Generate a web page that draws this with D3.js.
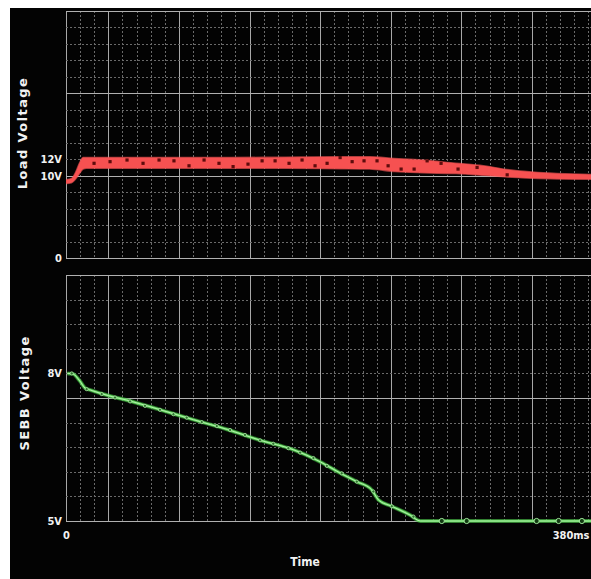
<!DOCTYPE html>
<html>
<head>
<meta charset="utf-8">
<script src="https://cdn.jsdelivr.net/npm/d3@7"></script>
<style>
  body { margin: 0; background: #fff; }
  text { font-family: 'Liberation Sans Narrow', 'DejaVu Sans Condensed', 'DejaVu Sans', sans-serif; font-weight: bold; fill: #f2f2f2; }
</style>
</head>
<body>
<script>
// load voltage envelope (ms, volts)
var loadTime = [0, 4, 7, 10, 12.5, 15, 40, 80, 120, 160, 200, 222, 240, 260, 285, 305, 322, 341, 384];
var loadHigh = [9.5, 9.65, 10.4, 11.6, 12.2, 12.2, 12.2, 12.2, 12.2, 12.25, 12.3, 12.3, 12.1, 11.9, 11.5, 11.2, 10.75, 10.45, 10.15];
var loadLow  = [9.05, 9.15, 9.6, 10.3, 10.8, 10.9, 10.9, 10.9, 10.9, 10.9, 10.85, 10.8, 10.5, 10.35, 10.25, 10.05, 9.85, 9.7, 9.55];

// dark sample dots inside the band
var loadMarkTime = [20.5, 32.2, 44.6, 56.3, 68.0, 78.9, 89.9, 100.9, 111.8, 122.1, 133.0, 143.3, 152.8, 163.0, 172.5,
                    182.0, 190.8, 200.3, 209.1, 217.8, 227.3, 235.4, 244.9, 254.4, 263.9, 274.1, 286.5, 300.4, 322.4];
var loadMarkVolt = [11.5, 11.7, 11.9, 11.5, 11.9, 11.8, 11.2, 11.9, 11.5, 11.1, 11.4, 11.8, 11.8, 11.5, 11.9,
                    11.2, 11.5, 12.2, 11.7, 11.8, 11.8, 11.2, 10.8, 10.8, 11.8, 11.5, 10.8, 11.0, 10.1];

// SEBB voltage trace
var sebbTime = [1, 5, 10, 14, 18, 32, 44, 69, 93, 118, 142, 166, 186, 200, 212.5, 223.5, 228.3, 238, 251.5, 259, 384];
var sebbVolt = [8.0, 7.99, 7.85, 7.7, 7.66, 7.54, 7.46, 7.26, 7.06, 6.86, 6.64, 6.45, 6.2, 5.98, 5.8, 5.63, 5.43, 5.3, 5.12, 5.0, 5.0];

var sebbDotTime = [4.2, 15.1, 26.1, 35.8, 46.8, 57.7, 68.7, 78.5, 88.2, 99.2, 110.2, 119.9, 130.8, 141.8, 151.5, 162.5,
                   171.1, 180.8, 190.6, 201.5, 212.5, 224.6, 238.1, 253.9];
var sebbDotVolt = [8.0, 7.68, 7.58, 7.51, 7.43, 7.34, 7.26, 7.17, 7.1, 7.01, 6.93, 6.85, 6.75, 6.64, 6.57, 6.48,
                   6.39, 6.28, 6.12, 5.97, 5.8, 5.6, 5.3, 5.09];
var sebbRingTime = [274.6, 292.8, 343.9, 360.0, 377.0];
var sebbRingVolt = [5.0, 5.0, 5.0, 5.0, 5.0];

// tick labels
var loadTicks = [0, 10, 12];
var loadTickLabels = ['0', '10V', '12V'];
var sebbTicks = [5, 8];
var sebbTickLabels = ['5V', '8V'];
var timeTicks = [0, 380];
var timeTickLabels = ['0', '380ms'];

var W = 591, H = 579;
var svg = d3.select('body').append('svg').attr('width', W).attr('height', H);
var defs = svg.append('defs');

svg.append('rect').attr('width', W).attr('height', H).attr('fill', '#fff');
svg.append('rect').attr('x', 10).attr('y', 8).attr('width', W - 10).attr('height', H - 8).attr('fill', '#030303');

var x = d3.scaleLinear().domain([0, 380]).range([66, 586]);
var xDiv = d3.scaleLinear().domain([0, 1]).range([66, 80.12]);   // scope grid divisions
var yLoad = d3.scaleLinear().domain([0, 30]).range([258, 11]);
var ySebb = d3.scaleLinear().domain([5, 10]).range([521, 275]);

var glow = defs.append('filter').attr('id', 'soft').attr('x', '-5%').attr('y', '-50%').attr('width', '110%').attr('height', '200%');
glow.append('feGaussianBlur').attr('stdDeviation', 0.7);

function grid(g, yScale, yVals, isMajorY, y0, y1) {
    var divs = d3.range(0, 38).filter(function(i) { return xDiv(i) <= W; });
    g.selectAll('.vx').data(divs).enter().append('line')
        .attr('x1', function(d) { return Math.round(xDiv(d)) + 0.5; })
        .attr('x2', function(d) { return Math.round(xDiv(d)) + 0.5; })
        .attr('y1', y0).attr('y2', y1)
        .attr('stroke', function(d) { return (d === 0 || d % 5 === 3) ? '#a8a8a8' : '#6a6a6a'; })
        .attr('stroke-dasharray', function(d) { return (d === 0 || d % 5 === 3) ? null : '2,2'; })
        .attr('stroke-width', 1);
    g.selectAll('.hy').data(yVals).enter().append('line')
        .attr('x1', 66).attr('x2', W)
        .attr('y1', function(d) { return Math.round(yScale(d)) + 0.5; })
        .attr('y2', function(d) { return Math.round(yScale(d)) + 0.5; })
        .attr('stroke', function(d) { return isMajorY(d) ? '#b0b0b0' : '#6a6a6a'; })
        .attr('stroke-dasharray', function(d) { return isMajorY(d) ? null : '2,2'; })
        .attr('stroke-width', 1);
}

// top panel: load voltage
var topPanel = svg.append('g');
grid(topPanel, yLoad, d3.range(0, 31, 2), function(d) { return d % 10 === 0; }, 11, 258);

defs.append('clipPath').attr('id', 'clipTop').append('rect').attr('x', 66).attr('y', 11).attr('width', W - 66).attr('height', 247);

var loadRows = loadTime.map(function(t, i) { return { t: t, hi: loadHigh[i], lo: loadLow[i] }; });
var band = d3.area().curve(d3.curveMonotoneX)
    .x(function(d) { return x(d.t); })
    .y0(function(d) { return yLoad(d.lo); })
    .y1(function(d) { return yLoad(d.hi); });

var topData = topPanel.append('g').attr('clip-path', 'url(#clipTop)');
topData.append('path').datum(loadRows).attr('d', band)
    .attr('fill', '#ff5a5a').attr('opacity', 0.6).attr('filter', 'url(#soft)')
    .attr('stroke', '#ff5a5a').attr('stroke-width', 1.5);
topData.append('path').datum(loadRows).attr('d', band).attr('fill', '#f65151');

topData.selectAll('.lm').data(loadMarkTime).enter().append('rect')
    .attr('x', function(d) { return x(d) - 1.6; })
    .attr('y', function(d, i) { return yLoad(loadMarkVolt[i]) - 1.6; })
    .attr('width', 3.2).attr('height', 3.2)
    .attr('fill', '#5e0c0c');

var loadAxis = d3.axisLeft(yLoad).tickValues(loadTicks)
    .tickFormat(function(d, i) { return loadTickLabels[i]; })
    .tickSize(0).tickPadding(4);
svg.append('g').attr('transform', 'translate(66,0)').call(loadAxis)
    .call(function(g) { g.select('.domain').remove(); })
    .attr('font-family', null).attr('font-size', null)
    .selectAll('text').attr('font-size', 11).attr('fill', null);

// bottom panel: SEBB voltage
var botPanel = svg.append('g');
grid(botPanel, ySebb, d3.range(5, 10.01, 0.5), function(d) { return d === 5 || d === 7.5 || d === 10; }, 275, 521);

defs.append('clipPath').attr('id', 'clipBot').append('rect').attr('x', 66).attr('y', 270).attr('width', W - 66).attr('height', 260);

var sebbRows = sebbTime.map(function(t, i) { return { t: t, v: sebbVolt[i] }; });
var trace = d3.line().curve(d3.curveMonotoneX)
    .x(function(d) { return x(d.t); })
    .y(function(d) { return ySebb(d.v); });

var botData = botPanel.append('g').attr('clip-path', 'url(#clipBot)');
botData.append('path').datum(sebbRows).attr('d', trace)
    .attr('fill', 'none').attr('stroke', '#3fb83f').attr('stroke-width', 4).attr('opacity', 0.55).attr('filter', 'url(#soft)');
botData.append('path').datum(sebbRows).attr('d', trace)
    .attr('fill', 'none').attr('stroke', '#5ed05a').attr('stroke-width', 2.4);
botData.append('path').datum(sebbRows).attr('d', trace)
    .attr('fill', 'none').attr('stroke', '#c8f7c0').attr('stroke-width', 0.8);

botData.selectAll('.sd').data(sebbDotTime).enter().append('circle')
    .attr('cx', function(d) { return x(d); })
    .attr('cy', function(d, i) { return ySebb(sebbDotVolt[i]); })
    .attr('r', 1.6).attr('fill', '#2f7a2f').attr('stroke', '#b9f0b0').attr('stroke-width', 0.7);
botData.selectAll('.sr').data(sebbRingTime).enter().append('circle')
    .attr('cx', function(d) { return x(d); })
    .attr('cy', function(d, i) { return ySebb(sebbRingVolt[i]); })
    .attr('r', 2.6).attr('fill', '#123a12').attr('stroke', '#9fe59a').attr('stroke-width', 1);

var sebbAxis = d3.axisLeft(ySebb).tickValues(sebbTicks)
    .tickFormat(function(d, i) { return sebbTickLabels[i]; })
    .tickSize(0).tickPadding(4);
svg.append('g').attr('transform', 'translate(66,0)').call(sebbAxis)
    .call(function(g) { g.select('.domain').remove(); })
    .attr('font-family', null).attr('font-size', null)
    .selectAll('text').attr('font-size', 11).attr('fill', null);

var timeAxis = d3.axisBottom(x).tickValues(timeTicks)
    .tickFormat(function(d, i) { return timeTickLabels[i]; })
    .tickSize(0).tickPadding(10);
var timeG = svg.append('g').attr('transform', 'translate(0,521)').call(timeAxis)
    .call(function(g) { g.select('.domain').remove(); })
    .attr('font-family', null).attr('font-size', null);
timeG.selectAll('text').attr('font-size', 11).attr('fill', null);
// last label sits at the right edge: anchor it at its end so it stays inside
timeG.selectAll('.tick').filter(function(d) { return d === 380; }).select('text')
    .attr('text-anchor', 'end').attr('dx', W - 2 - x(380));

// axis titles
svg.append('text').attr('transform', 'translate(27,133) rotate(-90)')
    .attr('text-anchor', 'middle').attr('font-size', 13).attr('letter-spacing', 1.4)
    .style('font-family', "'DejaVu Sans', sans-serif").text('Load Voltage');
svg.append('text').attr('transform', 'translate(29,393) rotate(-90)')
    .attr('text-anchor', 'middle').attr('font-size', 13).attr('letter-spacing', 1.4)
    .style('font-family', "'DejaVu Sans', sans-serif").text('SEBB Voltage');
svg.append('text').attr('x', 305).attr('y', 566)
    .attr('text-anchor', 'middle').attr('font-size', 12).text('Time');
</script>
</body>
</html>
